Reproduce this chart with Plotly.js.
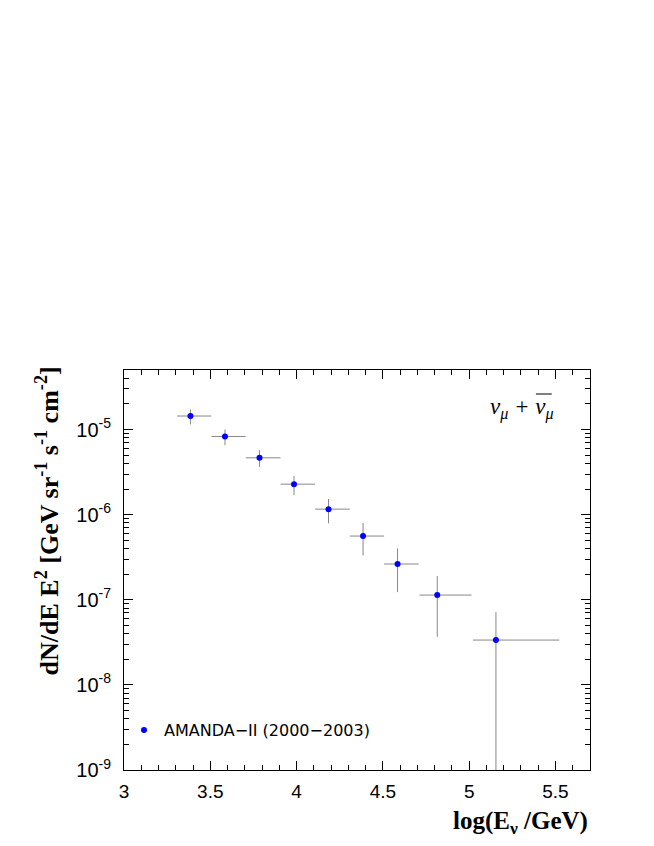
<!DOCTYPE html>
<html>
<head>
<meta charset="utf-8">
<script src="https://cdn.plot.ly/plotly-3.0.1.min.js"></script>
<style>html,body{margin:0;padding:0;background:#fff;}#chart{width:654px;height:846px;}</style>
</head>
<body>
<div id="chart"></div>
<script>
// Data
var logE      = [3.385, 3.585, 3.785, 3.985, 4.185, 4.385, 4.585, 4.815, 5.155];
var binLow    = [3.307, 3.507, 3.705, 3.907, 4.107, 4.308, 4.507, 4.712, 5.021];
var binHigh   = [3.506, 3.705, 3.907, 4.107, 4.308, 4.507, 4.708, 5.014, 5.522];
var flux      = [1.44e-5, 8.28e-6, 4.65e-6, 2.28e-6, 1.16e-6, 5.6e-7, 2.63e-7, 1.135e-7, 3.36e-8];
var fluxHigh  = [1.72e-5, 1.0e-5, 5.71e-6, 2.85e-6, 1.53e-6, 7.98e-7, 4.02e-7, 1.90e-7, 7.16e-8];
var fluxLow   = [1.146e-5, 6.53e-6, 3.64e-6, 1.69e-6, 7.9e-7, 3.3e-7, 1.23e-7, 3.67e-8, 1e-12];
var decadeExp = [-9, -8, -7, -6, -5];
var seriesName = 'AMANDA\u2212II (2000\u22122003)';

var exPlus = logE.map(function(v,i){return binHigh[i]-v;});
var exMinus = logE.map(function(v,i){return v-binLow[i];});
var eyPlus = flux.map(function(v,i){return fluxHigh[i]-v;});
var eyMinus = flux.map(function(v,i){return v-fluxLow[i];});

var yTickVals = decadeExp.map(function(e){return Math.pow(10,e);});
var yTickText = decadeExp.map(function(e){return '10<sup>'+e+'</sup>';});
var yMinor = [];
decadeExp.forEach(function(e){ for(var k=2;k<=9;k++){ var v=k*Math.pow(10,e); if(v<5e-5) yMinor.push(v);} });

var trace = {
  x: logE, y: flux, type: 'scatter', mode: 'markers', name: seriesName,
  marker: {color: '#0000ff', size: 6},
  error_x: {type: 'data', symmetric: false, array: exPlus, arrayminus: exMinus, color: '#888888', thickness: 1, width: 0},
  error_y: {type: 'data', symmetric: false, array: eyPlus, arrayminus: eyMinus, color: '#888888', thickness: 1, width: 0}
};

var layout = {
  width: 654, height: 846,
  margin: {l: 124, r: 64, t: 370, b: 76},
  paper_bgcolor: '#ffffff', plot_bgcolor: '#ffffff',
  showlegend: true,
  legend: {x: 0.0, y: 0.1, xanchor: 'left', yanchor: 'middle', bgcolor: 'rgba(0,0,0,0)',
           font: {family: 'DejaVu Sans, sans-serif', size: 16, color: '#000'}, itemwidth: 30},
  xaxis: {
    range: [3, 5.7], dtick: 0.5, tick0: 3, showgrid: false, zeroline: false,
    showline: true, linecolor: '#000', linewidth: 1, mirror: 'allticks',
    ticks: 'inside', ticklen: 9, tickcolor: '#000',
    minor: {dtick: 0.1, ticks: 'inside', ticklen: 5, tickcolor: '#000', showgrid: false},
    tickfont: {family: 'Liberation Sans, Arial, sans-serif', size: 19, color: '#000'},
    ticklabelstandoff: 4
  },
  yaxis: {
    type: 'log', range: [-9, Math.log10(5e-5)], showgrid: false, zeroline: false,
    showline: true, linecolor: '#000', linewidth: 1, mirror: 'allticks',
    tickmode: 'array', tickvals: yTickVals, ticktext: yTickText,
    ticks: 'inside', ticklen: 9, tickcolor: '#000',
    minor: {tickmode: 'array', tickvals: yMinor, ticks: 'inside', ticklen: 5, tickcolor: '#000', showgrid: false},
    tickfont: {family: 'Liberation Sans, Arial, sans-serif', size: 20, color: '#000'},
    ticklabelstandoff: 8
  },
  annotations: [
    {text: '<b>dN/dE E<sup>2</sup> [GeV sr<sup>-1</sup> s<sup>-1</sup> cm<sup>-2</sup>]</b>',
     xref: 'paper', yref: 'paper', x: -0.165, y: 1.013, xanchor: 'center', yanchor: 'top',
     textangle: -90, showarrow: false,
     font: {family: 'Liberation Serif, Times New Roman, serif', size: 26, color: '#000'}},
    {text: '<b>log(E<sub>\u03bd</sub> /GeV)</b>',
     xref: 'paper', yref: 'paper', x: 1.0, y: -0.13, xanchor: 'right', yanchor: 'middle',
     showarrow: false,
     font: {family: 'Liberation Serif, Times New Roman, serif', size: 25, color: '#000'}},
    {text: '<i>\u03bd<sub>\u03bc</sub> + \u03bd<sub>\u03bc</sub></i>',
     xref: 'paper', yref: 'paper', x: 0.927, y: 0.905, xanchor: 'right', yanchor: 'middle',
     showarrow: false,
     font: {family: 'Liberation Serif, Times New Roman, serif', size: 23, color: '#000'}}
  ],
  shapes: [
    {type: 'line', xref: 'paper', yref: 'paper', x0: 0.884, x1: 0.918, y0: 0.94, y1: 0.94,
     line: {color: '#000', width: 1}}
  ]
};

Plotly.newPlot('chart', [trace], layout, {displayModeBar: false, staticPlot: true});
</script>
</body>
</html>
